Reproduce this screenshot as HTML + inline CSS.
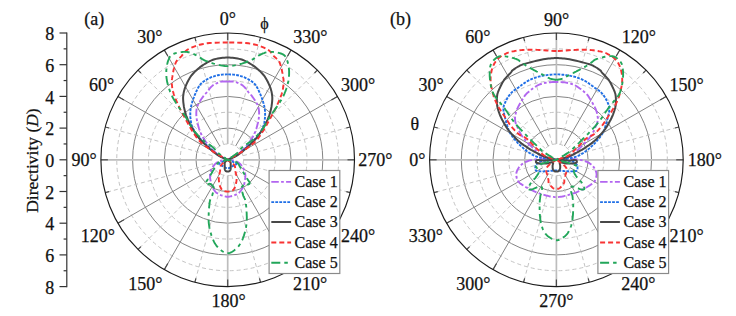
<!DOCTYPE html>
<html><head><meta charset="utf-8"><style>
*{margin:0;padding:0}
body{background:#fff;width:736px;height:316px;overflow:hidden}
svg{display:block}
text{font-family:"Liberation Serif",serif;font-size:18px;fill:#111;stroke:#111;stroke-width:0.25px}
.gd{fill:none;stroke:#c4c4c4;stroke-width:1;stroke-dasharray:4 3}
.gs{fill:none;stroke:#858585;stroke-width:1}
.rs{stroke:#858585;stroke-width:1}
.ra{stroke:#bdbdbd;stroke-width:1.7}
.rd{stroke:#c4c4c4;stroke-width:1;stroke-dasharray:4 3}
.tk{stroke:#4a4a4a;stroke-width:1.2}
.oc{fill:none;stroke:#1a1a1a;stroke-width:1.15}
.lg{fill:#fff;stroke:#8a8a8a;stroke-width:1.2}
.ax{stroke:#333;stroke-width:1.2;fill:none}
.c1,.c2,.c3,.c4,.c5{fill:none;stroke-width:1.9;stroke-linejoin:round}
.c1{stroke:#b266f0;stroke-dasharray:7.5 2.3 2.7 2.3}
.c2{stroke:#1f6fe6;stroke-dasharray:2.8 1.2}
.c3{stroke:#484848;stroke-width:2}
.c4{stroke:#f83333;stroke-dasharray:5 3}
.c5{stroke:#22a65a;stroke-dasharray:9 4 3.5 4}
</style></head>
<body><svg width="736" height="316" viewBox="0 0 736 316">
<circle cx="227.7" cy="159.8" r="15.85" class="gd"/>
<circle cx="227.7" cy="159.8" r="47.55" class="gd"/>
<circle cx="227.7" cy="159.8" r="79.25" class="gd"/>
<circle cx="227.7" cy="159.8" r="110.95" class="gd"/>
<circle cx="227.7" cy="159.8" r="31.70" class="gs"/>
<circle cx="227.7" cy="159.8" r="63.40" class="gs"/>
<circle cx="227.7" cy="159.8" r="95.10" class="gs"/>
<line x1="227.70" y1="143.95" x2="227.70" y2="33.00" class="ra"/>
<line x1="231.80" y1="144.49" x2="260.52" y2="37.32" class="rd"/>
<line x1="235.62" y1="146.07" x2="291.10" y2="49.99" class="rs"/>
<line x1="238.91" y1="148.59" x2="317.36" y2="70.14" class="rd"/>
<line x1="241.43" y1="151.88" x2="337.51" y2="96.40" class="rs"/>
<line x1="243.01" y1="155.70" x2="350.18" y2="126.98" class="rd"/>
<line x1="243.55" y1="159.80" x2="354.50" y2="159.80" class="ra"/>
<line x1="243.01" y1="163.90" x2="350.18" y2="192.62" class="rd"/>
<line x1="241.43" y1="167.72" x2="337.51" y2="223.20" class="rs"/>
<line x1="238.91" y1="171.01" x2="317.36" y2="249.46" class="rd"/>
<line x1="235.62" y1="173.53" x2="291.10" y2="269.61" class="rs"/>
<line x1="231.80" y1="175.11" x2="260.52" y2="282.28" class="rd"/>
<line x1="227.70" y1="175.65" x2="227.70" y2="286.60" class="ra"/>
<line x1="223.60" y1="175.11" x2="194.88" y2="282.28" class="rd"/>
<line x1="219.77" y1="173.53" x2="164.30" y2="269.61" class="rs"/>
<line x1="216.49" y1="171.01" x2="138.04" y2="249.46" class="rd"/>
<line x1="213.97" y1="167.73" x2="117.89" y2="223.20" class="rs"/>
<line x1="212.39" y1="163.90" x2="105.22" y2="192.62" class="rd"/>
<line x1="211.85" y1="159.80" x2="100.90" y2="159.80" class="ra"/>
<line x1="212.39" y1="155.70" x2="105.22" y2="126.98" class="rd"/>
<line x1="213.97" y1="151.88" x2="117.89" y2="96.40" class="rs"/>
<line x1="216.49" y1="148.59" x2="138.04" y2="70.14" class="rd"/>
<line x1="219.77" y1="146.07" x2="164.30" y2="49.99" class="rs"/>
<line x1="223.60" y1="144.49" x2="194.88" y2="37.32" class="rd"/>
<line x1="227.70" y1="33.00" x2="227.70" y2="40.00" class="tk"/>
<line x1="260.52" y1="37.32" x2="259.48" y2="41.18" class="tk"/>
<line x1="291.10" y1="49.99" x2="287.60" y2="56.05" class="tk"/>
<line x1="317.36" y1="70.14" x2="314.53" y2="72.97" class="tk"/>
<line x1="337.51" y1="96.40" x2="331.45" y2="99.90" class="tk"/>
<line x1="350.18" y1="126.98" x2="346.32" y2="128.02" class="tk"/>
<line x1="354.50" y1="159.80" x2="347.50" y2="159.80" class="tk"/>
<line x1="350.18" y1="192.62" x2="346.32" y2="191.58" class="tk"/>
<line x1="337.51" y1="223.20" x2="331.45" y2="219.70" class="tk"/>
<line x1="317.36" y1="249.46" x2="314.53" y2="246.63" class="tk"/>
<line x1="291.10" y1="269.61" x2="287.60" y2="263.55" class="tk"/>
<line x1="260.52" y1="282.28" x2="259.48" y2="278.42" class="tk"/>
<line x1="227.70" y1="286.60" x2="227.70" y2="279.60" class="tk"/>
<line x1="194.88" y1="282.28" x2="195.92" y2="278.42" class="tk"/>
<line x1="164.30" y1="269.61" x2="167.80" y2="263.55" class="tk"/>
<line x1="138.04" y1="249.46" x2="140.87" y2="246.63" class="tk"/>
<line x1="117.89" y1="223.20" x2="123.95" y2="219.70" class="tk"/>
<line x1="105.22" y1="192.62" x2="109.08" y2="191.58" class="tk"/>
<line x1="100.90" y1="159.80" x2="107.90" y2="159.80" class="tk"/>
<line x1="105.22" y1="126.98" x2="109.08" y2="128.02" class="tk"/>
<line x1="117.89" y1="96.40" x2="123.95" y2="99.90" class="tk"/>
<line x1="138.04" y1="70.14" x2="140.87" y2="72.97" class="tk"/>
<line x1="164.30" y1="49.99" x2="167.80" y2="56.05" class="tk"/>
<line x1="194.88" y1="37.32" x2="195.92" y2="41.18" class="tk"/>
<circle cx="227.7" cy="159.8" r="126.8" class="oc"/>
<circle cx="556.4" cy="159.8" r="15.85" class="gd"/>
<circle cx="556.4" cy="159.8" r="47.55" class="gd"/>
<circle cx="556.4" cy="159.8" r="79.25" class="gd"/>
<circle cx="556.4" cy="159.8" r="110.95" class="gd"/>
<circle cx="556.4" cy="159.8" r="31.70" class="gs"/>
<circle cx="556.4" cy="159.8" r="63.40" class="gs"/>
<circle cx="556.4" cy="159.8" r="95.10" class="gs"/>
<line x1="556.40" y1="143.95" x2="556.40" y2="33.00" class="ra"/>
<line x1="560.50" y1="144.49" x2="589.22" y2="37.32" class="rd"/>
<line x1="564.32" y1="146.07" x2="619.80" y2="49.99" class="rs"/>
<line x1="567.61" y1="148.59" x2="646.06" y2="70.14" class="rd"/>
<line x1="570.13" y1="151.88" x2="666.21" y2="96.40" class="rs"/>
<line x1="571.71" y1="155.70" x2="678.88" y2="126.98" class="rd"/>
<line x1="572.25" y1="159.80" x2="683.20" y2="159.80" class="ra"/>
<line x1="571.71" y1="163.90" x2="678.88" y2="192.62" class="rd"/>
<line x1="570.13" y1="167.72" x2="666.21" y2="223.20" class="rs"/>
<line x1="567.61" y1="171.01" x2="646.06" y2="249.46" class="rd"/>
<line x1="564.32" y1="173.53" x2="619.80" y2="269.61" class="rs"/>
<line x1="560.50" y1="175.11" x2="589.22" y2="282.28" class="rd"/>
<line x1="556.40" y1="175.65" x2="556.40" y2="286.60" class="ra"/>
<line x1="552.30" y1="175.11" x2="523.58" y2="282.28" class="rd"/>
<line x1="548.48" y1="173.53" x2="493.00" y2="269.61" class="rs"/>
<line x1="545.19" y1="171.01" x2="466.74" y2="249.46" class="rd"/>
<line x1="542.67" y1="167.73" x2="446.59" y2="223.20" class="rs"/>
<line x1="541.09" y1="163.90" x2="433.92" y2="192.62" class="rd"/>
<line x1="540.55" y1="159.80" x2="429.60" y2="159.80" class="ra"/>
<line x1="541.09" y1="155.70" x2="433.92" y2="126.98" class="rd"/>
<line x1="542.67" y1="151.88" x2="446.59" y2="96.40" class="rs"/>
<line x1="545.19" y1="148.59" x2="466.74" y2="70.14" class="rd"/>
<line x1="548.48" y1="146.07" x2="493.00" y2="49.99" class="rs"/>
<line x1="552.30" y1="144.49" x2="523.58" y2="37.32" class="rd"/>
<line x1="556.40" y1="33.00" x2="556.40" y2="40.00" class="tk"/>
<line x1="589.22" y1="37.32" x2="588.18" y2="41.18" class="tk"/>
<line x1="619.80" y1="49.99" x2="616.30" y2="56.05" class="tk"/>
<line x1="646.06" y1="70.14" x2="643.23" y2="72.97" class="tk"/>
<line x1="666.21" y1="96.40" x2="660.15" y2="99.90" class="tk"/>
<line x1="678.88" y1="126.98" x2="675.02" y2="128.02" class="tk"/>
<line x1="683.20" y1="159.80" x2="676.20" y2="159.80" class="tk"/>
<line x1="678.88" y1="192.62" x2="675.02" y2="191.58" class="tk"/>
<line x1="666.21" y1="223.20" x2="660.15" y2="219.70" class="tk"/>
<line x1="646.06" y1="249.46" x2="643.23" y2="246.63" class="tk"/>
<line x1="619.80" y1="269.61" x2="616.30" y2="263.55" class="tk"/>
<line x1="589.22" y1="282.28" x2="588.18" y2="278.42" class="tk"/>
<line x1="556.40" y1="286.60" x2="556.40" y2="279.60" class="tk"/>
<line x1="523.58" y1="282.28" x2="524.62" y2="278.42" class="tk"/>
<line x1="493.00" y1="269.61" x2="496.50" y2="263.55" class="tk"/>
<line x1="466.74" y1="249.46" x2="469.57" y2="246.63" class="tk"/>
<line x1="446.59" y1="223.20" x2="452.65" y2="219.70" class="tk"/>
<line x1="433.92" y1="192.62" x2="437.78" y2="191.58" class="tk"/>
<line x1="429.60" y1="159.80" x2="436.60" y2="159.80" class="tk"/>
<line x1="433.92" y1="126.98" x2="437.78" y2="128.02" class="tk"/>
<line x1="446.59" y1="96.40" x2="452.65" y2="99.90" class="tk"/>
<line x1="466.74" y1="70.14" x2="469.57" y2="72.97" class="tk"/>
<line x1="493.00" y1="49.99" x2="496.50" y2="56.05" class="tk"/>
<line x1="523.58" y1="37.32" x2="524.62" y2="41.18" class="tk"/>
<circle cx="556.4" cy="159.8" r="126.8" class="oc"/>
<polyline points="227.7,81.6 226.8,81.6 226.0,81.5 225.1,81.5 224.3,81.5 223.4,81.4 222.5,81.5 221.6,81.6 220.7,81.8 219.7,82.1 218.7,82.4 217.7,82.8 216.6,83.3 215.5,83.8 214.5,84.3 213.5,84.9 212.6,85.6 211.7,86.4 210.9,87.2 210.0,88.2 209.2,89.2 208.5,90.2 207.8,91.1 207.1,92.0 206.5,92.7 206.0,93.2 205.6,93.6 205.3,93.9 205.0,94.2 204.7,94.4 204.4,94.8 204.0,95.3 203.5,96.0 202.9,96.9 202.1,98.0 201.2,99.3 200.3,100.6 199.5,102.0 198.6,103.4 197.9,104.8 197.4,106.1 197.0,107.4 196.7,108.6 196.5,109.9 196.4,111.1 196.3,112.4 196.3,113.7 196.3,114.9 196.4,116.2 196.5,117.5 196.7,118.8 196.9,120.1 197.1,121.4 197.4,122.7 197.8,124.0 198.1,125.2 198.4,126.4 198.7,127.5 199.0,128.6 199.4,129.6 199.7,130.6 200.1,131.6 200.5,132.5 200.9,133.5 201.4,134.5 201.9,135.5 202.4,136.5 203.0,137.4 203.5,138.4 204.2,139.4 204.9,140.4 205.6,141.5 206.5,142.6 207.5,143.8 208.5,145.1 209.6,146.5 210.8,147.9 212.1,149.3 213.4,150.6 214.7,151.9 216.0,153.0 217.4,154.1 219.0,155.1 220.7,156.1 222.4,157.1 224.1,157.9 225.5,158.7 226.8,159.3 227.7,159.8 227.0,159.9 226.0,160.0 224.8,160.2 223.5,160.3 222.2,160.5 220.9,160.8 219.7,161.1 218.7,161.5 217.8,162.0 217.0,162.5 216.2,163.1 215.5,163.7 214.8,164.4 214.2,165.1 213.6,165.9 213.1,166.6 212.6,167.4 212.1,168.2 211.7,169.0 211.3,169.8 211.0,170.7 210.7,171.6 210.5,172.4 210.3,173.2 210.2,174.0 210.1,174.7 210.0,175.5 210.0,176.2 210.1,176.9 210.1,177.7 210.2,178.4 210.3,179.2 210.4,180.0 210.5,180.8 210.7,181.7 210.8,182.5 211.0,183.3 211.2,184.2 211.5,185.0 211.8,185.8 212.1,186.6 212.5,187.4 213.0,188.2 213.4,189.0 213.9,189.8 214.4,190.5 215.0,191.2 215.5,191.8 216.1,192.4 216.7,192.9 217.3,193.3 217.9,193.7 218.6,194.1 219.2,194.5 220.0,194.8 220.7,195.1 221.5,195.4 222.3,195.7 223.2,196.0 224.1,196.2 225.0,196.4 225.9,196.6 226.8,196.7 227.7,196.7 228.6,196.7 229.5,196.6 230.4,196.4 231.3,196.2 232.2,196.0 233.1,195.7 233.9,195.4 234.7,195.1 235.4,194.8 236.2,194.5 236.8,194.1 237.5,193.7 238.1,193.3 238.7,192.9 239.3,192.4 239.9,191.8 240.4,191.2 241.0,190.5 241.5,189.8 242.0,189.0 242.4,188.2 242.9,187.4 243.3,186.6 243.6,185.8 243.9,185.0 244.2,184.2 244.4,183.3 244.6,182.5 244.7,181.7 244.9,180.8 245.0,180.0 245.1,179.2 245.2,178.4 245.3,177.7 245.3,176.9 245.4,176.2 245.4,175.5 245.3,174.7 245.2,174.0 245.1,173.2 244.9,172.4 244.7,171.6 244.4,170.7 244.0,169.8 243.7,169.0 243.3,168.2 242.8,167.4 242.3,166.6 241.8,165.9 241.2,165.1 240.6,164.4 239.9,163.7 239.2,163.1 238.4,162.5 237.6,162.0 236.7,161.5 235.7,161.1 234.5,160.8 233.2,160.5 231.8,160.3 230.6,160.2 229.4,160.0 228.4,159.9 227.7,159.8 228.6,159.3 229.9,158.7 231.3,157.9 233.0,157.1 234.7,156.1 236.4,155.1 238.0,154.1 239.4,153.0 240.7,151.9 242.0,150.6 243.3,149.3 244.6,147.9 245.8,146.5 246.9,145.1 247.9,143.8 248.9,142.6 249.8,141.5 250.5,140.4 251.2,139.4 251.9,138.4 252.4,137.4 253.0,136.5 253.5,135.5 254.0,134.5 254.5,133.5 254.9,132.5 255.3,131.6 255.7,130.6 256.0,129.6 256.4,128.6 256.7,127.5 257.0,126.4 257.3,125.2 257.6,124.0 258.0,122.7 258.2,121.4 258.5,120.1 258.7,118.8 258.9,117.5 259.0,116.2 259.1,114.9 259.1,113.7 259.1,112.4 259.0,111.1 258.9,109.9 258.7,108.6 258.4,107.4 258.0,106.1 257.5,104.8 256.8,103.4 255.9,102.0 255.1,100.6 254.2,99.3 253.3,98.0 252.5,96.9 251.9,96.0 251.4,95.3 251.0,94.8 250.7,94.4 250.4,94.2 250.1,93.9 249.8,93.6 249.4,93.2 248.9,92.7 248.3,92.0 247.6,91.1 246.9,90.2 246.2,89.2 245.4,88.2 244.5,87.2 243.7,86.4 242.8,85.6 241.9,84.9 240.9,84.3 239.9,83.8 238.8,83.3 237.7,82.8 236.7,82.4 235.7,82.1 234.7,81.8 233.8,81.6 232.9,81.5 232.0,81.4 231.1,81.5 230.3,81.5 229.4,81.5 228.6,81.6 227.7,81.6" class="c1"/>
<polyline points="227.7,74.4 226.3,74.4 224.9,74.5 223.5,74.5 222.1,74.6 220.7,74.8 219.3,75.0 217.9,75.2 216.6,75.5 215.3,75.9 213.9,76.3 212.6,76.7 211.3,77.2 210.0,77.8 208.8,78.4 207.6,79.0 206.5,79.6 205.5,80.2 204.5,80.9 203.5,81.5 202.6,82.2 201.8,82.9 201.0,83.7 200.2,84.6 199.4,85.6 198.7,86.7 198.0,87.9 197.3,89.2 196.7,90.6 196.1,92.0 195.5,93.3 194.9,94.7 194.4,96.0 193.9,97.3 193.4,98.5 193.0,99.8 192.5,101.0 192.2,102.3 191.8,103.5 191.5,104.7 191.2,105.8 191.0,106.9 190.8,108.0 190.6,109.0 190.5,110.0 190.4,111.0 190.4,112.0 190.3,112.9 190.3,113.8 190.3,114.6 190.3,115.4 190.3,116.2 190.3,116.9 190.4,117.6 190.5,118.3 190.6,119.0 190.7,119.8 190.8,120.6 190.9,121.4 191.0,122.2 191.1,123.1 191.3,123.9 191.5,124.8 191.8,125.7 192.2,126.7 192.6,127.7 193.1,128.8 193.7,129.8 194.3,130.9 195.0,132.1 195.7,133.2 196.5,134.4 197.4,135.5 198.3,136.7 199.4,137.8 200.4,139.0 201.6,140.2 202.8,141.4 204.0,142.6 205.2,143.8 206.5,145.0 207.8,146.2 209.1,147.5 210.5,148.7 211.9,150.0 213.4,151.2 214.8,152.4 216.2,153.5 217.5,154.5 218.9,155.4 220.3,156.2 221.8,157.0 223.3,157.7 224.7,158.4 225.9,158.9 226.9,159.4 227.7,159.8 227.0,160.1 225.9,160.5 224.6,161.0 223.2,161.5 221.9,162.1 220.7,162.6 219.7,163.2 219.2,163.6 219.1,164.0 219.2,164.3 219.6,164.7 220.2,165.0 220.8,165.3 221.5,165.6 222.2,165.9 222.8,166.2 223.4,166.5 223.9,166.9 224.5,167.2 225.2,167.5 225.8,167.8 226.4,168.1 227.1,168.2 227.7,168.3 228.3,168.2 229.0,168.1 229.6,167.8 230.2,167.5 230.9,167.2 231.5,166.9 232.0,166.5 232.6,166.2 233.2,165.9 233.9,165.6 234.6,165.3 235.2,165.0 235.8,164.7 236.2,164.3 236.3,164.0 236.2,163.6 235.7,163.2 234.7,162.6 233.5,162.1 232.2,161.5 230.8,161.0 229.5,160.5 228.4,160.1 227.7,159.8 228.5,159.4 229.5,158.9 230.7,158.4 232.1,157.7 233.6,157.0 235.1,156.2 236.5,155.4 237.9,154.5 239.2,153.5 240.6,152.4 242.0,151.2 243.5,150.0 244.9,148.7 246.3,147.5 247.6,146.2 248.9,145.0 250.2,143.8 251.4,142.6 252.6,141.4 253.8,140.2 255.0,139.0 256.0,137.8 257.1,136.7 258.0,135.5 258.9,134.4 259.7,133.2 260.4,132.1 261.1,130.9 261.7,129.8 262.3,128.8 262.8,127.7 263.2,126.7 263.6,125.7 263.9,124.8 264.1,123.9 264.2,123.1 264.4,122.2 264.5,121.4 264.6,120.6 264.7,119.8 264.8,119.0 264.9,118.3 265.0,117.6 265.0,116.9 265.1,116.2 265.1,115.4 265.1,114.6 265.1,113.8 265.1,112.9 265.0,112.0 265.0,111.0 264.9,110.0 264.8,109.0 264.6,108.0 264.4,106.9 264.2,105.8 263.9,104.7 263.6,103.5 263.2,102.3 262.9,101.1 262.4,99.8 262.0,98.5 261.5,97.3 261.0,96.0 260.5,94.7 259.9,93.3 259.3,92.0 258.7,90.6 258.1,89.2 257.4,87.9 256.7,86.7 256.0,85.6 255.2,84.6 254.4,83.7 253.6,82.9 252.8,82.2 251.9,81.5 250.9,80.9 249.9,80.2 248.9,79.6 247.8,79.0 246.6,78.4 245.4,77.8 244.1,77.2 242.8,76.7 241.5,76.3 240.1,75.9 238.8,75.5 237.5,75.2 236.1,75.0 234.7,74.8 233.3,74.6 231.9,74.5 230.5,74.5 229.1,74.4 227.7,74.4" class="c2"/>
<polyline points="227.7,57.6 226.1,57.6 224.4,57.7 222.7,57.8 221.1,58.0 219.4,58.2 217.8,58.5 216.2,58.9 214.6,59.3 213.0,59.8 211.5,60.4 209.9,61.1 208.4,61.9 206.9,62.7 205.4,63.6 203.9,64.5 202.5,65.4 201.1,66.4 199.7,67.4 198.4,68.5 197.0,69.7 195.7,70.9 194.5,72.1 193.4,73.3 192.3,74.5 191.3,75.7 190.4,76.9 189.6,78.2 188.9,79.4 188.2,80.7 187.5,82.0 186.9,83.3 186.3,84.6 185.7,86.0 185.2,87.3 184.7,88.7 184.3,90.2 183.9,91.6 183.6,93.1 183.4,94.5 183.2,96.0 183.1,97.5 183.1,99.0 183.2,100.6 183.3,102.1 183.5,103.7 183.7,105.2 183.9,106.7 184.2,108.1 184.5,109.5 184.8,110.8 185.1,112.1 185.5,113.3 185.9,114.6 186.3,115.8 186.8,117.0 187.3,118.3 187.8,119.6 188.4,120.8 188.9,122.1 189.5,123.4 190.2,124.6 190.9,125.9 191.6,127.1 192.3,128.4 193.1,129.7 193.9,130.9 194.7,132.2 195.6,133.5 196.5,134.8 197.4,136.0 198.4,137.3 199.4,138.5 200.4,139.7 201.5,140.9 202.6,142.0 203.8,143.2 204.9,144.3 206.1,145.4 207.3,146.5 208.5,147.6 209.7,148.7 211.0,149.8 212.3,150.9 213.6,152.0 214.9,153.0 216.2,154.0 217.5,154.9 218.7,155.7 219.9,156.4 221.2,157.1 222.6,157.7 223.8,158.3 225.0,158.7 226.1,159.2 227.0,159.5 227.7,159.8 227.5,160.0 227.2,160.2 226.8,160.5 226.4,160.8 226.0,161.2 225.6,161.5 225.2,161.9 225.0,162.3 224.8,162.7 224.7,163.1 224.7,163.5 224.7,164.0 224.7,164.4 224.7,164.9 224.7,165.4 224.7,165.8 224.7,166.2 224.7,166.7 224.7,167.2 224.7,167.7 224.7,168.1 224.7,168.5 224.7,168.9 224.8,169.3 224.9,169.6 225.0,169.9 225.1,170.2 225.2,170.4 225.4,170.6 225.6,170.8 225.7,171.0 225.9,171.1 226.1,171.2 226.3,171.3 226.5,171.4 226.8,171.4 227.0,171.5 227.2,171.5 227.5,171.5 227.7,171.5 227.9,171.5 228.2,171.5 228.4,171.5 228.6,171.4 228.9,171.4 229.1,171.3 229.3,171.2 229.5,171.1 229.7,171.0 229.8,170.8 230.0,170.6 230.2,170.4 230.3,170.2 230.4,169.9 230.5,169.6 230.6,169.3 230.7,168.9 230.7,168.5 230.7,168.1 230.7,167.7 230.7,167.2 230.7,166.7 230.7,166.2 230.7,165.8 230.7,165.4 230.7,164.9 230.7,164.4 230.7,164.0 230.7,163.5 230.7,163.1 230.6,162.7 230.4,162.3 230.2,161.9 229.8,161.5 229.4,161.2 229.0,160.8 228.6,160.5 228.2,160.2 227.9,160.0 227.7,159.8 228.4,159.5 229.3,159.2 230.4,158.7 231.6,158.3 232.8,157.7 234.2,157.1 235.5,156.4 236.7,155.7 237.9,154.9 239.2,154.0 240.5,153.0 241.8,152.0 243.1,150.9 244.4,149.8 245.7,148.7 246.9,147.6 248.1,146.5 249.3,145.4 250.5,144.3 251.6,143.2 252.8,142.0 253.9,140.9 255.0,139.7 256.0,138.5 257.0,137.3 258.0,136.0 258.9,134.8 259.8,133.5 260.7,132.2 261.5,130.9 262.3,129.7 263.1,128.4 263.8,127.1 264.5,125.9 265.2,124.6 265.8,123.4 266.5,122.1 267.0,120.8 267.6,119.6 268.1,118.3 268.6,117.0 269.1,115.8 269.5,114.6 269.9,113.3 270.3,112.1 270.6,110.8 270.9,109.5 271.2,108.1 271.5,106.7 271.7,105.2 271.9,103.7 272.1,102.1 272.2,100.6 272.3,99.0 272.3,97.5 272.2,96.0 272.0,94.5 271.8,93.1 271.5,91.6 271.1,90.2 270.7,88.7 270.2,87.3 269.7,86.0 269.1,84.6 268.5,83.3 267.9,82.0 267.2,80.7 266.5,79.4 265.8,78.2 265.0,76.9 264.1,75.7 263.1,74.5 262.0,73.3 260.9,72.1 259.7,70.9 258.4,69.7 257.0,68.5 255.7,67.4 254.3,66.4 252.9,65.4 251.5,64.5 250.0,63.6 248.5,62.7 247.0,61.9 245.5,61.1 243.9,60.4 242.4,59.8 240.8,59.3 239.2,58.9 237.6,58.5 236.0,58.2 234.3,58.0 232.7,57.8 231.0,57.7 229.3,57.6 227.7,57.6" class="c3"/>
<polyline points="227.7,42.5 224.8,42.5 221.7,42.5 218.7,42.6 215.7,42.7 212.7,42.8 209.8,43.0 207.1,43.3 204.5,43.7 202.1,44.2 199.7,44.7 197.5,45.4 195.4,46.1 193.4,46.8 191.5,47.6 189.8,48.4 188.3,49.2 187.0,50.0 185.8,50.9 184.9,51.8 184.1,52.8 183.4,53.7 182.7,54.6 182.0,55.5 181.3,56.3 180.6,57.0 179.9,57.6 179.3,58.2 178.7,58.8 178.1,59.3 177.6,59.8 177.1,60.4 176.6,61.1 176.2,61.8 175.8,62.5 175.5,63.3 175.2,64.1 174.9,64.9 174.7,65.7 174.4,66.5 174.2,67.4 174.0,68.3 173.7,69.3 173.5,70.3 173.3,71.4 173.1,72.4 172.9,73.4 172.8,74.4 172.6,75.3 172.5,76.2 172.3,76.9 172.2,77.7 172.1,78.4 171.9,79.2 171.9,79.9 171.8,80.7 171.8,81.6 171.8,82.5 171.8,83.5 171.9,84.5 172.0,85.5 172.1,86.5 172.2,87.6 172.4,88.6 172.6,89.6 172.8,90.6 173.0,91.5 173.3,92.4 173.5,93.3 173.8,94.3 174.2,95.3 174.6,96.3 175.0,97.5 175.5,98.8 176.1,100.2 176.7,101.6 177.4,103.2 178.1,104.7 178.8,106.2 179.4,107.6 180.1,109.0 180.7,110.2 181.3,111.4 181.9,112.5 182.5,113.6 183.1,114.7 183.7,115.8 184.4,117.0 185.1,118.3 185.9,119.7 186.7,121.2 187.6,122.8 188.5,124.5 189.4,126.1 190.3,127.7 191.2,129.2 192.1,130.7 193.0,132.1 193.8,133.4 194.7,134.7 195.6,136.0 196.4,137.2 197.3,138.4 198.2,139.5 199.2,140.6 200.2,141.6 201.2,142.6 202.3,143.6 203.4,144.5 204.5,145.3 205.6,146.2 206.7,147.0 207.8,147.8 208.8,148.6 209.9,149.3 210.9,150.0 211.9,150.7 212.9,151.4 214.0,152.1 215.1,152.8 216.3,153.5 217.7,154.3 219.2,155.2 220.9,156.1 222.5,157.0 224.1,157.9 225.6,158.7 226.8,159.3 227.7,159.8 227.2,160.2 226.4,160.7 225.5,161.4 224.5,162.1 223.5,162.8 222.5,163.6 221.7,164.4 221.1,165.1 220.7,165.8 220.4,166.6 220.3,167.4 220.2,168.2 220.2,169.0 220.2,169.8 220.1,170.6 220.0,171.4 219.8,172.1 219.7,172.8 219.5,173.5 219.3,174.2 219.1,174.9 219.0,175.6 218.9,176.3 218.8,177.1 218.8,177.9 218.8,178.8 218.8,179.7 218.9,180.6 219.0,181.5 219.1,182.3 219.3,183.1 219.4,183.9 219.6,184.6 219.7,185.3 219.9,185.9 220.1,186.5 220.4,187.0 220.6,187.6 220.9,188.1 221.1,188.5 221.3,188.9 221.6,189.3 221.8,189.6 222.1,189.9 222.4,190.1 222.7,190.4 223.0,190.6 223.4,190.8 223.8,191.0 224.3,191.1 224.9,191.3 225.4,191.4 226.0,191.5 226.6,191.5 227.1,191.6 227.7,191.6 228.3,191.6 228.8,191.5 229.4,191.5 230.0,191.4 230.5,191.3 231.1,191.1 231.6,191.0 232.0,190.8 232.4,190.6 232.7,190.4 233.0,190.1 233.3,189.9 233.6,189.6 233.8,189.3 234.1,188.9 234.3,188.5 234.5,188.1 234.8,187.6 235.0,187.0 235.3,186.5 235.5,185.9 235.7,185.3 235.8,184.6 236.0,183.9 236.1,183.1 236.3,182.3 236.4,181.5 236.5,180.6 236.6,179.7 236.6,178.8 236.6,177.9 236.6,177.1 236.5,176.3 236.4,175.6 236.3,174.9 236.1,174.2 235.9,173.5 235.7,172.8 235.6,172.1 235.4,171.4 235.3,170.6 235.2,169.8 235.2,169.0 235.2,168.2 235.1,167.4 235.0,166.6 234.7,165.8 234.3,165.1 233.7,164.4 232.9,163.6 231.9,162.8 230.9,162.1 229.9,161.4 229.0,160.7 228.2,160.2 227.7,159.8 228.6,159.3 229.8,158.7 231.3,157.9 232.9,157.0 234.5,156.1 236.2,155.2 237.7,154.3 239.1,153.5 240.3,152.8 241.4,152.1 242.5,151.4 243.5,150.7 244.5,150.0 245.5,149.3 246.6,148.6 247.6,147.8 248.7,147.0 249.8,146.2 250.9,145.3 252.0,144.5 253.1,143.6 254.2,142.6 255.2,141.6 256.2,140.6 257.2,139.5 258.1,138.4 259.0,137.2 259.8,136.0 260.7,134.7 261.6,133.4 262.4,132.1 263.3,130.7 264.2,129.2 265.1,127.7 266.0,126.1 266.9,124.5 267.8,122.8 268.7,121.2 269.5,119.7 270.3,118.3 271.0,117.0 271.7,115.8 272.3,114.7 272.9,113.6 273.5,112.5 274.1,111.4 274.7,110.2 275.3,109.0 276.0,107.6 276.6,106.2 277.3,104.7 278.0,103.2 278.7,101.6 279.3,100.2 279.9,98.8 280.4,97.5 280.8,96.3 281.2,95.3 281.6,94.3 281.9,93.3 282.1,92.4 282.4,91.5 282.6,90.6 282.8,89.6 283.0,88.6 283.1,87.6 283.3,86.5 283.4,85.5 283.5,84.5 283.6,83.5 283.6,82.5 283.6,81.6 283.6,80.7 283.5,79.9 283.5,79.2 283.4,78.4 283.2,77.7 283.1,76.9 282.9,76.2 282.8,75.3 282.6,74.4 282.5,73.4 282.3,72.4 282.1,71.4 281.9,70.3 281.7,69.3 281.4,68.3 281.2,67.4 281.0,66.5 280.7,65.7 280.5,64.9 280.2,64.1 279.9,63.3 279.6,62.5 279.2,61.8 278.8,61.1 278.3,60.4 277.8,59.8 277.3,59.3 276.7,58.8 276.1,58.2 275.5,57.6 274.8,57.0 274.1,56.3 273.4,55.5 272.7,54.6 272.0,53.7 271.3,52.8 270.5,51.8 269.6,50.9 268.4,50.0 267.1,49.2 265.6,48.4 263.9,47.6 262.0,46.8 260.0,46.1 257.9,45.4 255.7,44.7 253.3,44.2 250.9,43.7 248.3,43.3 245.6,43.0 242.7,42.8 239.7,42.7 236.7,42.6 233.7,42.5 230.6,42.5 227.7,42.5" class="c4"/>
<polyline points="227.7,66.1 226.3,66.1 224.9,66.0 223.6,65.8 222.2,65.6 220.8,65.4 219.4,65.1 218.0,64.8 216.6,64.4 215.1,64.0 213.6,63.6 212.0,63.1 210.4,62.6 208.8,62.0 207.3,61.4 205.8,60.9 204.5,60.3 203.3,59.7 202.2,59.1 201.2,58.4 200.2,57.7 199.3,57.1 198.3,56.4 197.4,55.8 196.4,55.3 195.4,54.8 194.4,54.3 193.4,53.9 192.3,53.4 191.3,53.1 190.3,52.7 189.3,52.4 188.3,52.2 187.3,52.0 186.3,51.9 185.3,51.9 184.3,51.9 183.3,51.9 182.2,52.0 181.2,52.1 180.2,52.2 179.1,52.4 178.0,52.6 176.8,52.9 175.7,53.2 174.6,53.5 173.5,53.9 172.6,54.3 171.8,54.7 171.2,55.2 170.6,55.7 170.2,56.3 169.8,56.9 169.5,57.5 169.3,58.1 169.0,58.8 168.7,59.5 168.4,60.2 168.1,60.9 167.8,61.7 167.6,62.5 167.4,63.3 167.1,64.1 167.0,64.9 166.8,65.8 166.7,66.7 166.5,67.7 166.5,68.6 166.4,69.7 166.3,70.7 166.3,71.7 166.3,72.7 166.3,73.7 166.3,74.7 166.4,75.7 166.4,76.7 166.5,77.6 166.6,78.6 166.8,79.6 166.9,80.6 167.1,81.6 167.3,82.6 167.6,83.6 167.8,84.6 168.1,85.7 168.4,86.7 168.8,87.7 169.1,88.7 169.4,89.6 169.7,90.5 170.0,91.4 170.4,92.2 170.7,93.0 171.0,93.8 171.4,94.6 171.8,95.5 172.2,96.3 172.6,97.2 173.1,98.1 173.6,99.0 174.1,99.9 174.7,100.8 175.2,101.6 175.7,102.5 176.2,103.3 176.7,104.1 177.1,104.7 177.6,105.4 178.0,106.0 178.5,106.7 179.0,107.4 179.5,108.1 180.1,109.0 180.7,109.9 181.4,110.9 182.2,111.9 182.9,113.0 183.7,114.1 184.5,115.3 185.4,116.5 186.2,117.8 187.0,119.2 187.9,120.7 188.8,122.3 189.7,123.9 190.6,125.5 191.6,127.1 192.5,128.6 193.5,130.0 194.5,131.3 195.6,132.6 196.8,133.9 197.9,135.1 199.0,136.2 200.1,137.3 201.2,138.3 202.1,139.2 203.0,140.0 203.7,140.6 204.4,141.2 205.1,141.7 205.8,142.1 206.4,142.5 207.1,143.0 207.8,143.5 208.5,144.0 209.3,144.6 210.0,145.1 210.7,145.6 211.5,146.1 212.2,146.7 212.9,147.2 213.5,147.8 214.1,148.4 214.5,148.9 215.0,149.5 215.4,150.1 215.8,150.7 216.4,151.3 217.0,152.0 217.8,152.7 218.8,153.5 220.1,154.5 221.5,155.5 223.0,156.6 224.5,157.6 225.8,158.5 226.9,159.2 227.7,159.8 227.0,160.0 226.0,160.2 224.8,160.5 223.5,160.8 222.1,161.1 220.8,161.5 219.7,161.9 218.8,162.3 218.1,162.8 217.6,163.3 217.1,163.8 216.8,164.4 216.4,164.9 216.1,165.5 215.8,166.2 215.4,166.8 215.0,167.5 214.5,168.1 214.1,168.8 213.7,169.6 213.3,170.3 212.8,171.0 212.4,171.8 212.0,172.5 211.6,173.2 211.1,174.0 210.7,174.7 210.3,175.4 209.8,176.1 209.4,176.9 209.0,177.5 208.6,178.2 208.2,178.8 207.7,179.5 207.3,180.1 206.8,180.8 206.4,181.3 206.1,181.9 205.8,182.4 205.7,182.8 205.7,183.2 205.8,183.5 205.9,183.8 206.2,184.0 206.5,184.2 206.8,184.3 207.1,184.4 207.4,184.5 207.7,184.5 208.0,184.4 208.4,184.3 208.7,184.1 209.1,183.9 209.5,183.8 209.9,183.8 210.3,183.9 210.7,184.1 211.2,184.4 211.7,184.8 212.2,185.3 212.7,185.8 213.1,186.3 213.5,186.8 213.7,187.3 213.8,187.8 213.8,188.4 213.8,189.0 213.7,189.6 213.5,190.2 213.4,190.8 213.2,191.3 213.1,191.9 213.0,192.4 212.9,192.9 212.8,193.4 212.6,193.9 212.5,194.4 212.4,194.9 212.2,195.4 212.0,196.0 211.8,196.5 211.5,197.1 211.2,197.6 210.9,198.1 210.7,198.7 210.4,199.4 210.1,200.2 209.9,201.1 209.7,202.2 209.5,203.5 209.4,204.8 209.2,206.3 209.1,207.8 209.0,209.3 208.9,210.8 208.8,212.2 208.7,213.6 208.7,215.0 208.6,216.4 208.6,217.8 208.6,219.1 208.6,220.5 208.7,221.9 208.8,223.3 209.0,224.7 209.2,226.1 209.4,227.5 209.7,228.9 210.0,230.3 210.3,231.6 210.7,233.0 211.1,234.3 211.5,235.6 212.0,236.9 212.5,238.3 213.0,239.6 213.6,240.8 214.2,242.1 214.8,243.2 215.5,244.3 216.2,245.3 217.0,246.3 217.9,247.3 218.7,248.1 219.6,249.0 220.5,249.7 221.3,250.4 222.1,251.0 222.8,251.5 223.6,252.0 224.3,252.3 225.0,252.7 225.6,252.9 226.3,253.1 227.0,253.2 227.7,253.2 228.4,253.2 229.1,253.1 229.8,252.9 230.4,252.7 231.1,252.3 231.8,252.0 232.6,251.5 233.3,251.0 234.1,250.4 234.9,249.7 235.8,249.0 236.7,248.1 237.5,247.3 238.4,246.3 239.2,245.3 239.9,244.3 240.6,243.2 241.2,242.1 241.8,240.8 242.4,239.6 242.9,238.3 243.4,236.9 243.9,235.6 244.3,234.3 244.7,233.0 245.1,231.6 245.4,230.3 245.7,228.9 246.0,227.5 246.2,226.1 246.4,224.7 246.6,223.3 246.7,221.9 246.8,220.5 246.8,219.1 246.8,217.8 246.8,216.4 246.7,215.0 246.7,213.6 246.6,212.2 246.5,210.8 246.4,209.3 246.3,207.8 246.2,206.3 246.0,204.8 245.9,203.5 245.7,202.2 245.5,201.1 245.3,200.2 245.0,199.4 244.7,198.7 244.4,198.1 244.2,197.6 243.9,197.1 243.6,196.5 243.4,196.0 243.2,195.4 243.0,194.9 242.9,194.4 242.8,193.9 242.6,193.4 242.5,192.9 242.4,192.4 242.3,191.9 242.2,191.3 242.0,190.8 241.9,190.2 241.7,189.6 241.6,189.0 241.6,188.4 241.6,187.8 241.7,187.3 241.9,186.8 242.3,186.3 242.7,185.8 243.2,185.3 243.7,184.8 244.2,184.4 244.7,184.1 245.1,183.9 245.5,183.8 245.9,183.8 246.3,183.9 246.7,184.1 247.0,184.3 247.4,184.4 247.7,184.5 248.0,184.5 248.3,184.4 248.6,184.3 248.9,184.2 249.2,184.0 249.5,183.8 249.6,183.5 249.7,183.2 249.7,182.8 249.6,182.4 249.3,181.9 249.0,181.3 248.6,180.8 248.1,180.1 247.7,179.5 247.2,178.8 246.8,178.2 246.4,177.5 246.0,176.9 245.6,176.1 245.1,175.4 244.7,174.7 244.3,174.0 243.8,173.2 243.4,172.5 243.0,171.8 242.5,171.0 242.1,170.3 241.7,169.6 241.3,168.8 240.8,168.1 240.4,167.5 240.0,166.8 239.6,166.2 239.3,165.5 239.0,164.9 238.6,164.4 238.3,163.8 237.8,163.3 237.3,162.8 236.6,162.3 235.7,161.9 234.6,161.5 233.3,161.1 231.9,160.8 230.6,160.5 229.4,160.2 228.4,160.0 227.7,159.8 228.5,159.2 229.6,158.5 230.9,157.6 232.4,156.6 233.9,155.5 235.3,154.5 236.6,153.5 237.6,152.7 238.4,152.0 239.0,151.3 239.6,150.7 240.0,150.1 240.4,149.5 240.9,148.9 241.3,148.4 241.9,147.8 242.5,147.2 243.2,146.7 243.9,146.1 244.7,145.6 245.4,145.1 246.1,144.6 246.9,144.0 247.6,143.5 248.3,143.0 249.0,142.5 249.6,142.1 250.3,141.7 251.0,141.2 251.7,140.6 252.4,140.0 253.3,139.2 254.2,138.3 255.3,137.3 256.4,136.2 257.5,135.1 258.6,133.9 259.8,132.6 260.9,131.3 261.9,130.0 262.9,128.6 263.8,127.1 264.8,125.5 265.7,123.9 266.6,122.3 267.5,120.7 268.4,119.2 269.2,117.8 270.0,116.5 270.9,115.3 271.7,114.1 272.5,113.0 273.2,111.9 274.0,110.9 274.7,109.9 275.3,109.0 275.9,108.1 276.4,107.4 276.9,106.7 277.4,106.0 277.8,105.4 278.3,104.7 278.7,104.1 279.2,103.3 279.7,102.5 280.2,101.6 280.7,100.8 281.3,99.9 281.8,99.0 282.3,98.1 282.8,97.2 283.2,96.3 283.6,95.5 284.0,94.6 284.4,93.8 284.7,93.0 285.0,92.2 285.4,91.4 285.7,90.5 286.0,89.6 286.3,88.7 286.6,87.7 287.0,86.7 287.3,85.7 287.6,84.6 287.8,83.6 288.1,82.6 288.3,81.6 288.5,80.6 288.6,79.6 288.8,78.6 288.9,77.6 289.0,76.7 289.0,75.7 289.1,74.7 289.1,73.7 289.1,72.7 289.1,71.7 289.1,70.7 289.0,69.7 288.9,68.6 288.9,67.7 288.7,66.7 288.6,65.8 288.4,64.9 288.3,64.1 288.0,63.3 287.8,62.5 287.6,61.7 287.3,60.9 287.0,60.2 286.7,59.5 286.4,58.8 286.1,58.1 285.9,57.5 285.6,56.9 285.2,56.3 284.8,55.7 284.2,55.2 283.6,54.7 282.8,54.3 281.9,53.9 280.8,53.5 279.7,53.2 278.6,52.9 277.4,52.6 276.3,52.4 275.2,52.2 274.2,52.1 273.2,52.0 272.1,51.9 271.1,51.9 270.1,51.9 269.1,51.9 268.1,52.0 267.1,52.2 266.1,52.4 265.1,52.7 264.1,53.1 263.0,53.4 262.0,53.9 261.0,54.3 260.0,54.8 259.0,55.3 258.0,55.8 257.1,56.4 256.1,57.1 255.2,57.7 254.2,58.4 253.2,59.1 252.1,59.7 250.9,60.3 249.6,60.9 248.1,61.4 246.6,62.0 245.0,62.6 243.4,63.1 241.8,63.6 240.3,64.0 238.8,64.4 237.4,64.8 236.0,65.1 234.6,65.4 233.2,65.6 231.8,65.8 230.5,66.0 229.1,66.1 227.7,66.1" class="c5"/>
<polyline points="556.4,82.0 555.2,82.0 554.0,82.0 552.8,82.0 551.6,82.1 550.5,82.2 549.3,82.3 548.1,82.4 546.9,82.6 545.7,82.8 544.5,83.0 543.4,83.3 542.2,83.6 541.0,84.0 539.8,84.4 538.6,84.9 537.4,85.5 536.1,86.3 534.7,87.2 533.3,88.2 531.8,89.2 530.4,90.3 529.1,91.4 527.9,92.4 526.9,93.3 526.1,94.1 525.5,94.8 525.0,95.4 524.6,96.0 524.2,96.6 523.8,97.2 523.4,98.0 522.9,98.8 522.3,99.8 521.6,100.8 521.0,101.9 520.3,103.1 519.6,104.3 518.9,105.5 518.3,106.6 517.8,107.7 517.3,108.7 516.9,109.7 516.6,110.7 516.2,111.7 515.9,112.6 515.7,113.5 515.5,114.4 515.3,115.3 515.2,116.2 515.1,117.0 515.0,117.8 515.0,118.6 515.1,119.4 515.1,120.1 515.2,120.9 515.3,121.6 515.4,122.3 515.6,122.9 515.8,123.5 516.0,124.1 516.3,124.7 516.6,125.3 516.9,126.0 517.2,126.7 517.6,127.5 518.0,128.4 518.4,129.4 518.8,130.4 519.3,131.4 519.8,132.4 520.3,133.4 520.9,134.3 521.5,135.2 522.1,136.1 522.8,137.0 523.4,137.9 524.1,138.8 524.9,139.6 525.7,140.6 526.5,141.5 527.4,142.5 528.3,143.5 529.4,144.5 530.4,145.6 531.5,146.6 532.5,147.6 533.6,148.6 534.6,149.6 535.6,150.6 536.5,151.5 537.4,152.5 538.3,153.5 539.3,154.4 540.3,155.2 541.4,156.0 542.7,156.7 544.2,157.3 546.1,157.8 548.0,158.3 550.1,158.7 552.0,159.0 553.8,159.3 555.3,159.6 556.4,159.8 555.6,159.7 554.6,159.7 553.4,159.6 552.1,159.5 550.7,159.4 549.2,159.3 547.8,159.2 546.4,159.2 545.1,159.2 543.7,159.2 542.2,159.2 540.8,159.2 539.4,159.2 538.0,159.3 536.6,159.4 535.3,159.5 534.0,159.7 532.7,159.9 531.5,160.1 530.2,160.4 529.1,160.7 527.9,161.1 526.8,161.5 525.8,161.9 524.8,162.4 523.9,162.9 523.1,163.4 522.3,164.0 521.5,164.6 520.8,165.2 520.1,165.9 519.5,166.6 518.9,167.4 518.4,168.2 517.9,169.1 517.4,170.0 517.0,170.9 516.7,171.9 516.4,172.8 516.3,173.7 516.2,174.6 516.3,175.6 516.4,176.5 516.6,177.5 516.8,178.4 517.1,179.3 517.5,180.1 517.9,180.9 518.4,181.6 518.9,182.2 519.5,182.8 520.1,183.4 520.8,183.9 521.6,184.4 522.5,185.0 523.4,185.6 524.5,186.3 525.6,187.0 526.9,187.7 528.2,188.4 529.6,189.1 531.0,189.8 532.3,190.5 533.7,191.1 535.0,191.7 536.4,192.3 537.8,192.8 539.2,193.3 540.6,193.8 542.0,194.3 543.4,194.7 544.8,195.1 546.2,195.5 547.7,195.8 549.1,196.2 550.6,196.5 552.0,196.7 553.5,196.9 554.9,197.1 556.4,197.1 557.9,197.1 559.3,196.9 560.8,196.7 562.2,196.5 563.7,196.2 565.1,195.8 566.6,195.5 568.0,195.1 569.4,194.7 570.8,194.3 572.2,193.8 573.6,193.3 575.0,192.8 576.4,192.3 577.8,191.7 579.1,191.1 580.5,190.5 581.8,189.8 583.2,189.1 584.6,188.4 585.9,187.7 587.2,187.0 588.3,186.3 589.4,185.6 590.3,185.0 591.2,184.4 592.0,183.9 592.7,183.4 593.3,182.8 593.9,182.2 594.4,181.6 594.9,180.9 595.3,180.1 595.7,179.3 596.0,178.4 596.2,177.5 596.4,176.5 596.5,175.6 596.6,174.6 596.5,173.7 596.4,172.8 596.1,171.9 595.8,170.9 595.4,170.0 594.9,169.1 594.4,168.2 593.9,167.4 593.3,166.6 592.7,165.9 592.0,165.2 591.3,164.6 590.5,164.0 589.7,163.4 588.9,162.9 588.0,162.4 587.0,161.9 586.0,161.5 584.9,161.1 583.7,160.7 582.5,160.4 581.3,160.1 580.1,159.9 578.8,159.7 577.5,159.5 576.2,159.4 574.8,159.3 573.4,159.2 572.0,159.2 570.6,159.2 569.1,159.2 567.7,159.2 566.4,159.2 565.0,159.2 563.6,159.3 562.1,159.4 560.7,159.5 559.4,159.6 558.2,159.7 557.2,159.7 556.4,159.8 557.5,159.6 559.0,159.3 560.8,159.0 562.7,158.7 564.8,158.3 566.7,157.8 568.6,157.3 570.1,156.7 571.4,156.0 572.5,155.2 573.5,154.4 574.5,153.5 575.4,152.5 576.3,151.5 577.2,150.6 578.2,149.6 579.2,148.6 580.3,147.6 581.3,146.6 582.4,145.6 583.4,144.5 584.5,143.5 585.4,142.5 586.3,141.5 587.1,140.6 587.9,139.6 588.7,138.8 589.4,137.9 590.0,137.0 590.7,136.1 591.3,135.2 591.9,134.3 592.5,133.4 593.0,132.4 593.5,131.4 594.0,130.4 594.4,129.4 594.8,128.4 595.2,127.5 595.6,126.7 595.9,126.0 596.2,125.3 596.5,124.7 596.8,124.1 597.0,123.5 597.2,122.9 597.4,122.3 597.5,121.6 597.6,120.9 597.7,120.1 597.7,119.4 597.8,118.6 597.8,117.8 597.7,117.0 597.6,116.2 597.5,115.3 597.3,114.4 597.1,113.5 596.9,112.6 596.6,111.7 596.2,110.7 595.9,109.7 595.5,108.7 595.0,107.7 594.5,106.6 593.9,105.5 593.2,104.3 592.5,103.1 591.8,101.9 591.2,100.8 590.5,99.8 589.9,98.8 589.4,98.0 589.0,97.2 588.6,96.6 588.2,96.0 587.8,95.4 587.3,94.8 586.7,94.1 585.9,93.3 584.9,92.4 583.7,91.4 582.4,90.3 581.0,89.2 579.5,88.2 578.1,87.2 576.7,86.3 575.4,85.5 574.2,84.9 573.0,84.4 571.8,84.0 570.6,83.6 569.4,83.3 568.3,83.0 567.1,82.8 565.9,82.6 564.7,82.4 563.5,82.3 562.3,82.2 561.1,82.1 560.0,82.0 558.8,82.0 557.6,82.0 556.4,82.0" class="c1"/>
<polyline points="556.4,74.4 555.2,74.4 554.0,74.4 552.8,74.5 551.6,74.6 550.5,74.7 549.3,74.8 548.1,74.9 546.9,75.1 545.7,75.3 544.5,75.4 543.3,75.6 542.1,75.9 541.0,76.1 539.8,76.4 538.6,76.7 537.4,77.0 536.2,77.4 535.0,77.8 533.9,78.2 532.7,78.6 531.5,79.1 530.4,79.6 529.2,80.2 528.0,80.8 526.8,81.5 525.6,82.3 524.4,83.1 523.2,84.0 521.9,84.8 520.8,85.7 519.6,86.6 518.5,87.4 517.4,88.2 516.4,88.9 515.3,89.6 514.3,90.3 513.3,91.1 512.4,91.8 511.5,92.7 510.6,93.6 509.8,94.6 508.9,95.8 508.1,97.0 507.3,98.3 506.6,99.6 506.0,100.8 505.4,102.0 504.9,103.1 504.5,104.1 504.1,104.9 503.9,105.6 503.7,106.4 503.5,107.1 503.5,108.0 503.4,108.9 503.5,110.0 503.6,111.3 503.9,112.7 504.2,114.3 504.6,115.9 505.0,117.5 505.4,119.2 505.9,120.8 506.3,122.3 506.7,123.7 507.1,125.2 507.5,126.5 507.9,127.9 508.4,129.3 508.9,130.6 509.5,132.0 510.3,133.4 511.2,134.8 512.2,136.2 513.2,137.7 514.4,139.1 515.6,140.5 516.9,141.9 518.1,143.3 519.4,144.6 520.7,145.9 522.1,147.1 523.5,148.4 524.9,149.6 526.4,150.8 527.8,151.8 529.2,152.8 530.6,153.7 531.9,154.5 533.1,155.1 534.2,155.7 535.4,156.1 536.6,156.6 537.8,157.0 539.2,157.3 540.7,157.7 542.5,158.1 544.6,158.4 546.9,158.7 549.2,159.0 551.4,159.2 553.4,159.5 555.2,159.7 556.4,159.8 555.8,159.9 554.9,159.9 554.0,160.0 552.9,160.2 551.7,160.3 550.5,160.4 549.4,160.5 548.4,160.6 547.4,160.7 546.4,160.7 545.5,160.8 544.5,160.8 543.6,160.9 542.7,161.0 541.8,161.1 541.0,161.3 540.2,161.6 539.5,161.9 538.8,162.3 538.2,162.7 537.6,163.2 537.1,163.6 536.6,164.1 536.2,164.5 535.9,164.9 535.7,165.3 535.5,165.7 535.4,166.2 535.3,166.6 535.3,167.0 535.3,167.4 535.3,167.8 535.3,168.2 535.3,168.6 535.3,169.0 535.4,169.4 535.5,169.8 535.7,170.1 535.9,170.4 536.2,170.7 536.6,170.9 537.1,171.1 537.7,171.2 538.3,171.2 539.0,171.3 539.6,171.3 540.3,171.4 541.0,171.4 541.7,171.4 542.3,171.4 543.0,171.4 543.7,171.4 544.5,171.3 545.2,171.3 545.9,171.3 546.7,171.2 547.5,171.1 548.4,171.1 549.3,171.0 550.2,170.9 551.0,170.8 551.9,170.7 552.6,170.7 553.3,170.6 553.9,170.6 554.3,170.5 554.7,170.5 555.1,170.5 555.4,170.4 555.7,170.4 556.0,170.4 556.4,170.4 556.8,170.4 557.1,170.4 557.4,170.4 557.7,170.5 558.1,170.5 558.5,170.5 558.9,170.6 559.5,170.6 560.2,170.7 560.9,170.7 561.8,170.8 562.6,170.9 563.5,171.0 564.4,171.1 565.3,171.1 566.1,171.2 566.9,171.3 567.6,171.3 568.3,171.3 569.1,171.4 569.8,171.4 570.5,171.4 571.1,171.4 571.8,171.4 572.5,171.4 573.2,171.3 573.8,171.3 574.5,171.2 575.1,171.2 575.7,171.1 576.2,170.9 576.6,170.7 576.9,170.4 577.1,170.1 577.3,169.8 577.4,169.4 577.5,169.0 577.5,168.6 577.5,168.2 577.5,167.8 577.5,167.4 577.5,167.0 577.5,166.6 577.4,166.2 577.3,165.7 577.1,165.3 576.9,164.9 576.6,164.5 576.2,164.1 575.7,163.6 575.2,163.2 574.6,162.7 574.0,162.3 573.3,161.9 572.6,161.6 571.8,161.3 571.0,161.1 570.1,161.0 569.2,160.9 568.3,160.8 567.3,160.8 566.4,160.7 565.4,160.7 564.4,160.6 563.4,160.5 562.3,160.4 561.1,160.3 559.9,160.2 558.8,160.0 557.9,159.9 557.0,159.9 556.4,159.8 557.6,159.7 559.4,159.5 561.4,159.2 563.6,159.0 565.9,158.7 568.2,158.4 570.3,158.1 572.1,157.7 573.6,157.3 575.0,157.0 576.2,156.6 577.4,156.1 578.6,155.7 579.7,155.1 580.9,154.5 582.2,153.7 583.6,152.8 585.0,151.8 586.4,150.8 587.9,149.6 589.3,148.4 590.7,147.1 592.1,145.9 593.4,144.6 594.7,143.3 595.9,141.9 597.2,140.5 598.4,139.1 599.6,137.7 600.6,136.2 601.6,134.8 602.5,133.4 603.3,132.0 603.9,130.6 604.4,129.3 604.9,127.9 605.3,126.5 605.7,125.2 606.1,123.7 606.5,122.3 606.9,120.8 607.4,119.2 607.8,117.5 608.2,115.9 608.6,114.3 608.9,112.7 609.2,111.3 609.3,110.0 609.4,108.9 609.3,108.0 609.3,107.1 609.1,106.4 608.9,105.6 608.7,104.9 608.3,104.0 607.9,103.1 607.4,102.0 606.8,100.8 606.2,99.6 605.5,98.3 604.7,97.0 603.9,95.8 603.0,94.6 602.2,93.6 601.3,92.7 600.4,91.8 599.5,91.1 598.5,90.3 597.5,89.6 596.4,88.9 595.4,88.2 594.3,87.4 593.2,86.6 592.0,85.7 590.9,84.8 589.6,84.0 588.4,83.1 587.2,82.3 586.0,81.5 584.8,80.8 583.6,80.2 582.4,79.6 581.3,79.1 580.1,78.6 578.9,78.2 577.8,77.8 576.6,77.4 575.4,77.0 574.2,76.7 573.0,76.4 571.8,76.1 570.7,75.9 569.5,75.6 568.3,75.4 567.1,75.3 565.9,75.1 564.7,74.9 563.5,74.8 562.3,74.7 561.1,74.6 560.0,74.5 558.8,74.4 557.6,74.4 556.4,74.4" class="c2"/>
<polyline points="556.4,58.1 554.8,58.1 553.2,58.2 551.7,58.2 550.1,58.4 548.5,58.5 546.9,58.7 545.2,59.0 543.3,59.3 541.2,59.7 538.9,60.2 536.5,60.8 534.0,61.4 531.6,62.0 529.3,62.6 527.3,63.1 525.6,63.6 524.2,64.0 523.2,64.3 522.3,64.6 521.6,64.9 521.0,65.1 520.4,65.4 519.8,65.7 519.1,66.1 518.3,66.5 517.4,67.0 516.6,67.5 515.7,68.0 514.9,68.6 514.2,69.1 513.5,69.6 512.9,70.0 512.5,70.4 512.2,70.7 511.9,70.9 511.8,71.2 511.6,71.5 511.4,71.8 511.1,72.2 510.6,72.8 510.0,73.5 509.2,74.3 508.3,75.2 507.4,76.1 506.5,77.1 505.6,78.1 504.7,79.1 504.0,80.1 503.4,81.1 502.8,82.0 502.2,83.0 501.7,84.0 501.2,85.0 500.7,86.0 500.3,86.9 499.9,87.8 499.5,88.6 499.1,89.4 498.8,90.2 498.5,90.9 498.2,91.6 497.9,92.3 497.7,93.1 497.5,93.8 497.3,94.5 497.2,95.3 497.1,96.0 497.0,96.7 497.0,97.5 496.9,98.2 496.9,99.0 496.9,99.8 496.9,100.6 496.9,101.4 496.9,102.3 496.9,103.1 497.0,104.0 497.1,104.9 497.2,105.8 497.4,106.8 497.6,107.8 497.9,108.8 498.2,109.9 498.5,111.0 498.9,112.1 499.3,113.2 499.7,114.3 500.1,115.3 500.5,116.3 501.0,117.3 501.4,118.3 501.9,119.2 502.4,120.2 502.9,121.1 503.4,122.0 503.9,122.9 504.4,123.8 504.8,124.6 505.3,125.4 505.7,126.1 506.2,126.9 506.7,127.7 507.2,128.4 507.7,129.2 508.3,130.0 508.8,130.7 509.4,131.4 510.1,132.2 510.7,132.9 511.4,133.7 512.1,134.5 512.9,135.3 513.7,136.1 514.5,137.0 515.3,137.9 516.2,138.8 517.1,139.8 518.1,140.7 519.2,141.6 520.4,142.6 521.7,143.6 523.1,144.6 524.6,145.7 526.2,146.7 527.8,147.8 529.4,148.8 531.0,149.8 532.6,150.7 534.1,151.6 535.6,152.4 537.2,153.2 538.7,154.0 540.2,154.8 541.7,155.5 543.2,156.1 544.7,156.7 546.3,157.2 547.9,157.8 549.6,158.2 551.3,158.6 552.9,159.0 554.3,159.3 555.5,159.6 556.4,159.8 555.9,159.8 555.1,159.9 554.3,159.9 553.3,160.0 552.3,160.0 551.3,160.1 550.3,160.2 549.4,160.2 548.6,160.2 547.7,160.3 546.9,160.3 546.1,160.3 545.2,160.4 544.4,160.4 543.7,160.4 542.9,160.4 542.1,160.4 541.4,160.3 540.6,160.3 539.8,160.2 539.1,160.1 538.5,160.1 537.9,160.1 537.4,160.1 537.0,160.2 536.7,160.3 536.5,160.5 536.3,160.6 536.2,160.8 536.1,161.0 536.0,161.2 536.0,161.4 536.0,161.6 535.9,161.8 535.9,162.0 536.0,162.2 536.1,162.4 536.3,162.6 536.5,162.7 536.9,162.9 537.4,163.0 538.1,163.2 538.8,163.3 539.6,163.4 540.5,163.5 541.3,163.5 542.1,163.6 542.9,163.6 543.6,163.6 544.3,163.6 545.0,163.6 545.7,163.5 546.4,163.4 547.1,163.4 547.8,163.3 548.4,163.2 549.0,163.1 549.7,162.9 550.4,162.7 551.0,162.5 551.6,162.3 552.1,162.2 552.6,162.2 552.9,162.3 553.1,162.5 553.2,162.9 553.1,163.3 553.0,163.8 552.9,164.3 552.8,164.9 552.6,165.4 552.6,165.8 552.6,166.2 552.6,166.6 552.6,167.0 552.6,167.4 552.6,167.8 552.7,168.1 552.7,168.5 552.8,168.8 552.9,169.1 553.0,169.4 553.2,169.8 553.4,170.1 553.6,170.3 553.8,170.6 554.0,170.8 554.2,171.0 554.4,171.2 554.7,171.3 555.0,171.4 555.2,171.5 555.5,171.5 555.8,171.6 556.1,171.6 556.4,171.6 556.7,171.6 557.0,171.6 557.3,171.5 557.5,171.5 557.8,171.4 558.1,171.3 558.4,171.2 558.6,171.0 558.8,170.8 559.0,170.6 559.2,170.3 559.4,170.1 559.6,169.8 559.8,169.4 559.9,169.1 560.0,168.8 560.1,168.5 560.1,168.1 560.2,167.8 560.2,167.4 560.2,167.0 560.2,166.6 560.2,166.2 560.2,165.8 560.2,165.4 560.0,164.9 559.9,164.3 559.8,163.8 559.7,163.3 559.6,162.9 559.7,162.5 559.9,162.3 560.2,162.2 560.7,162.2 561.2,162.3 561.8,162.5 562.4,162.7 563.1,162.9 563.8,163.1 564.4,163.2 565.0,163.3 565.7,163.4 566.4,163.4 567.1,163.5 567.8,163.6 568.5,163.6 569.2,163.6 569.9,163.6 570.7,163.6 571.5,163.5 572.3,163.5 573.2,163.4 574.0,163.3 574.7,163.2 575.4,163.0 575.9,162.9 576.3,162.7 576.5,162.6 576.7,162.4 576.8,162.2 576.9,162.0 576.9,161.8 576.8,161.6 576.8,161.4 576.8,161.2 576.7,161.0 576.6,160.8 576.5,160.6 576.3,160.5 576.1,160.3 575.8,160.2 575.4,160.1 574.9,160.1 574.3,160.1 573.7,160.1 573.0,160.2 572.2,160.3 571.4,160.3 570.7,160.4 569.9,160.4 569.1,160.4 568.4,160.4 567.6,160.4 566.7,160.3 565.9,160.3 565.1,160.3 564.2,160.2 563.4,160.2 562.5,160.2 561.5,160.1 560.5,160.0 559.5,160.0 558.5,159.9 557.7,159.9 556.9,159.8 556.4,159.8 557.3,159.6 558.5,159.3 559.9,159.0 561.5,158.6 563.2,158.2 564.9,157.8 566.5,157.2 568.1,156.7 569.6,156.1 571.1,155.5 572.6,154.8 574.1,154.0 575.6,153.2 577.2,152.4 578.7,151.6 580.2,150.7 581.8,149.8 583.4,148.8 585.0,147.8 586.6,146.7 588.2,145.7 589.7,144.6 591.1,143.6 592.4,142.6 593.6,141.6 594.7,140.7 595.7,139.8 596.6,138.8 597.5,137.9 598.3,137.0 599.1,136.1 599.9,135.3 600.7,134.5 601.4,133.7 602.1,132.9 602.7,132.2 603.4,131.4 604.0,130.7 604.5,130.0 605.1,129.2 605.6,128.4 606.1,127.7 606.6,126.9 607.1,126.1 607.5,125.4 608.0,124.6 608.4,123.8 608.9,122.9 609.4,122.0 609.9,121.1 610.4,120.2 610.9,119.2 611.4,118.3 611.8,117.3 612.3,116.3 612.7,115.3 613.1,114.3 613.5,113.2 613.9,112.1 614.3,111.0 614.6,109.9 614.9,108.8 615.2,107.8 615.4,106.8 615.6,105.8 615.7,104.9 615.8,104.0 615.9,103.1 615.9,102.3 615.9,101.4 615.9,100.6 615.9,99.8 615.9,99.0 615.9,98.2 615.8,97.5 615.8,96.7 615.7,96.0 615.6,95.3 615.5,94.5 615.3,93.8 615.1,93.1 614.9,92.3 614.6,91.6 614.3,90.9 614.0,90.2 613.7,89.4 613.3,88.6 612.9,87.8 612.5,86.9 612.1,86.0 611.6,85.0 611.1,84.0 610.6,83.0 610.0,82.0 609.4,81.1 608.8,80.1 608.1,79.1 607.2,78.1 606.3,77.1 605.4,76.1 604.5,75.2 603.6,74.3 602.8,73.5 602.2,72.8 601.7,72.2 601.4,71.8 601.2,71.5 601.0,71.2 600.9,70.9 600.6,70.7 600.3,70.4 599.9,70.0 599.3,69.6 598.6,69.1 597.9,68.6 597.1,68.0 596.2,67.5 595.4,67.0 594.5,66.5 593.7,66.1 593.0,65.7 592.4,65.4 591.8,65.1 591.2,64.9 590.5,64.6 589.6,64.3 588.6,64.0 587.2,63.6 585.5,63.1 583.5,62.6 581.2,62.0 578.8,61.4 576.3,60.8 573.9,60.2 571.6,59.7 569.5,59.3 567.6,59.0 565.9,58.7 564.3,58.5 562.7,58.4 561.1,58.2 559.6,58.2 558.0,58.1 556.4,58.1" class="c3"/>
<polyline points="556.4,51.0 554.0,51.0 551.5,50.9 549.0,50.7 546.5,50.5 544.1,50.3 541.7,50.1 539.5,50.0 537.4,49.9 535.5,49.8 533.6,49.8 531.9,49.8 530.3,49.7 528.8,49.7 527.2,49.8 525.7,49.8 524.2,49.9 522.7,50.0 521.1,50.1 519.6,50.3 518.1,50.5 516.7,50.7 515.3,50.9 514.0,51.2 512.8,51.4 511.7,51.6 510.7,51.9 509.7,52.1 508.8,52.4 508.0,52.7 507.1,53.0 506.3,53.4 505.4,53.8 504.5,54.3 503.5,54.8 502.6,55.3 501.6,55.9 500.7,56.5 499.8,57.1 499.0,57.8 498.2,58.5 497.5,59.2 496.8,60.0 496.1,60.8 495.5,61.7 495.0,62.5 494.4,63.4 494.0,64.3 493.5,65.2 493.1,66.1 492.7,67.0 492.4,68.0 492.1,68.9 491.8,69.9 491.6,70.9 491.4,71.8 491.2,72.8 491.0,73.8 490.9,74.7 490.8,75.7 490.7,76.6 490.6,77.6 490.6,78.5 490.6,79.5 490.6,80.4 490.6,81.4 490.7,82.3 490.8,83.3 490.9,84.2 491.1,85.2 491.2,86.1 491.4,87.1 491.6,88.0 491.8,88.9 492.0,89.9 492.2,90.8 492.4,91.7 492.6,92.6 492.9,93.6 493.2,94.5 493.5,95.5 493.8,96.5 494.2,97.6 494.6,98.6 495.0,99.7 495.5,100.8 495.9,101.8 496.4,102.9 496.9,103.9 497.4,104.9 497.9,105.9 498.4,106.8 499.0,107.8 499.6,108.7 500.1,109.6 500.7,110.6 501.3,111.5 501.9,112.5 502.5,113.4 503.2,114.4 503.8,115.3 504.5,116.2 505.1,117.2 505.8,118.2 506.4,119.1 507.0,120.1 507.6,121.0 508.2,122.0 508.8,122.9 509.4,123.9 510.1,124.8 510.8,125.8 511.5,126.7 512.3,127.7 513.2,128.7 514.1,129.7 515.0,130.7 516.0,131.7 517.0,132.6 517.9,133.5 518.9,134.3 519.8,134.9 520.7,135.5 521.6,135.9 522.5,136.2 523.5,136.6 524.4,137.1 525.4,137.7 526.5,138.5 527.7,139.5 528.9,140.7 530.2,142.0 531.5,143.4 532.8,144.8 534.2,146.1 535.4,147.4 536.6,148.6 537.7,149.7 538.7,150.7 539.6,151.6 540.5,152.5 541.5,153.4 542.5,154.2 543.5,155.0 544.7,155.7 546.1,156.4 547.6,157.0 549.3,157.6 551.1,158.2 552.7,158.7 554.2,159.1 555.5,159.5 556.4,159.8 555.9,160.1 555.3,160.5 554.5,161.0 553.6,161.5 552.8,162.1 551.9,162.7 551.1,163.3 550.4,163.8 549.8,164.3 549.2,164.9 548.6,165.5 548.0,166.0 547.5,166.6 547.1,167.1 546.7,167.7 546.4,168.2 546.2,168.7 546.1,169.2 546.1,169.6 546.1,170.1 546.2,170.5 546.2,170.9 546.3,171.4 546.4,171.8 546.5,172.2 546.6,172.7 546.7,173.1 546.8,173.5 547.0,173.9 547.1,174.4 547.3,174.8 547.4,175.3 547.5,175.8 547.7,176.4 547.8,177.0 547.9,177.6 548.1,178.1 548.2,178.7 548.3,179.3 548.4,179.8 548.5,180.3 548.5,180.7 548.5,181.1 548.5,181.5 548.5,181.9 548.5,182.3 548.7,182.7 548.9,183.2 549.2,183.8 549.7,184.4 550.2,185.1 550.7,185.8 551.3,186.4 551.9,187.0 552.4,187.6 552.9,188.0 553.4,188.3 553.8,188.5 554.2,188.7 554.7,188.8 555.1,188.8 555.5,188.8 556.0,188.8 556.4,188.8 556.8,188.8 557.3,188.8 557.7,188.8 558.1,188.8 558.6,188.7 559.0,188.5 559.4,188.3 559.9,188.0 560.4,187.6 560.9,187.0 561.5,186.4 562.1,185.8 562.6,185.1 563.1,184.4 563.6,183.8 563.9,183.2 564.1,182.7 564.3,182.3 564.3,181.9 564.3,181.5 564.3,181.1 564.3,180.7 564.3,180.3 564.4,179.8 564.5,179.3 564.6,178.7 564.7,178.1 564.9,177.6 565.0,177.0 565.1,176.4 565.3,175.8 565.4,175.3 565.5,174.8 565.7,174.4 565.8,173.9 566.0,173.5 566.1,173.1 566.2,172.7 566.3,172.2 566.4,171.8 566.5,171.4 566.6,170.9 566.6,170.5 566.7,170.1 566.7,169.6 566.7,169.2 566.6,168.7 566.4,168.2 566.1,167.7 565.7,167.1 565.3,166.6 564.8,166.0 564.2,165.5 563.6,164.9 563.0,164.3 562.4,163.8 561.7,163.3 560.9,162.7 560.0,162.1 559.1,161.5 558.3,161.0 557.5,160.5 556.9,160.1 556.4,159.8 557.3,159.5 558.6,159.1 560.1,158.7 561.7,158.2 563.5,157.6 565.2,157.0 566.7,156.4 568.1,155.7 569.3,155.0 570.3,154.2 571.3,153.4 572.2,152.5 573.2,151.6 574.1,150.7 575.1,149.7 576.2,148.6 577.4,147.4 578.6,146.1 580.0,144.8 581.3,143.4 582.6,142.0 583.9,140.7 585.1,139.5 586.3,138.5 587.4,137.7 588.4,137.1 589.3,136.6 590.3,136.2 591.2,135.9 592.1,135.5 593.0,134.9 593.9,134.3 594.9,133.5 595.8,132.6 596.8,131.7 597.8,130.7 598.7,129.7 599.6,128.7 600.5,127.7 601.3,126.7 602.0,125.8 602.7,124.8 603.4,123.9 604.0,122.9 604.6,122.0 605.2,121.0 605.8,120.0 606.4,119.1 607.0,118.2 607.7,117.2 608.3,116.3 609.0,115.3 609.6,114.4 610.3,113.4 610.9,112.5 611.5,111.5 612.1,110.6 612.7,109.6 613.2,108.7 613.8,107.8 614.4,106.8 614.9,105.9 615.4,104.9 615.9,103.9 616.4,102.9 616.9,101.8 617.3,100.8 617.8,99.7 618.2,98.6 618.6,97.6 619.0,96.5 619.3,95.5 619.6,94.5 619.9,93.6 620.2,92.6 620.4,91.7 620.6,90.8 620.8,89.9 621.0,88.9 621.2,88.0 621.4,87.1 621.6,86.1 621.7,85.2 621.9,84.2 622.0,83.3 622.1,82.3 622.2,81.4 622.2,80.4 622.2,79.5 622.2,78.5 622.2,77.6 622.1,76.6 622.0,75.7 621.9,74.7 621.8,73.8 621.6,72.8 621.4,71.8 621.2,70.9 621.0,69.9 620.7,68.9 620.4,68.0 620.1,67.0 619.7,66.1 619.3,65.2 618.8,64.3 618.4,63.4 617.8,62.5 617.3,61.7 616.7,60.8 616.0,60.0 615.3,59.2 614.6,58.5 613.8,57.8 613.0,57.1 612.1,56.5 611.2,55.9 610.2,55.3 609.3,54.8 608.3,54.3 607.4,53.8 606.5,53.4 605.7,53.0 604.8,52.7 604.0,52.4 603.1,52.1 602.1,51.9 601.1,51.6 600.0,51.4 598.8,51.2 597.5,50.9 596.1,50.7 594.7,50.5 593.2,50.3 591.7,50.1 590.1,50.0 588.6,49.9 587.1,49.8 585.6,49.8 584.0,49.7 582.5,49.7 580.9,49.8 579.2,49.8 577.3,49.8 575.4,49.9 573.3,50.0 571.1,50.1 568.7,50.3 566.3,50.5 563.8,50.7 561.3,50.9 558.8,51.0 556.4,51.0" class="c4"/>
<polyline points="556.4,79.9 555.6,79.7 554.8,79.6 554.1,79.5 553.3,79.4 552.5,79.2 551.7,79.1 551.0,78.8 550.2,78.6 549.5,78.3 548.7,77.9 548.0,77.6 547.3,77.2 546.5,76.7 545.8,76.3 545.1,75.9 544.4,75.5 543.7,75.1 543.0,74.8 542.3,74.4 541.6,74.1 540.9,73.7 540.2,73.3 539.5,73.0 538.8,72.6 538.1,72.2 537.3,71.8 536.6,71.5 535.9,71.1 535.1,70.7 534.4,70.3 533.6,69.9 532.9,69.5 532.2,69.1 531.4,68.7 530.6,68.3 529.9,67.9 529.1,67.5 528.4,67.1 527.6,66.6 526.9,66.2 526.2,65.8 525.5,65.3 524.8,64.8 524.1,64.3 523.4,63.9 522.7,63.4 522.0,62.9 521.4,62.5 520.8,62.1 520.3,61.6 519.8,61.2 519.4,60.8 518.9,60.4 518.3,60.0 517.7,59.7 516.9,59.3 516.0,58.9 514.9,58.6 513.8,58.2 512.6,57.9 511.4,57.6 510.2,57.3 509.0,57.0 507.9,56.8 506.8,56.6 505.7,56.4 504.7,56.3 503.6,56.2 502.6,56.1 501.6,56.1 500.7,56.2 499.8,56.3 499.0,56.5 498.2,56.8 497.5,57.1 496.8,57.5 496.2,58.0 495.6,58.4 495.0,59.0 494.4,59.5 493.8,60.1 493.3,60.7 492.7,61.3 492.2,62.0 491.7,62.7 491.3,63.4 490.9,64.3 490.6,65.2 490.3,66.2 490.1,67.3 490.0,68.5 489.9,69.7 489.8,71.0 489.7,72.2 489.7,73.5 489.7,74.7 489.7,75.9 489.8,77.1 489.9,78.4 490.0,79.6 490.1,80.8 490.3,82.0 490.4,83.1 490.6,84.2 490.8,85.3 491.0,86.3 491.2,87.3 491.4,88.3 491.7,89.2 492.0,90.1 492.2,90.9 492.5,91.7 492.8,92.4 493.0,93.0 493.3,93.6 493.6,94.1 493.8,94.6 494.2,95.1 494.6,95.7 495.0,96.3 495.5,97.0 496.1,97.7 496.7,98.5 497.3,99.3 498.0,100.1 498.7,100.9 499.4,101.8 500.1,102.7 500.8,103.7 501.6,104.7 502.5,105.8 503.3,106.8 504.2,107.9 505.0,109.0 505.7,110.0 506.4,110.9 507.0,111.7 507.5,112.5 507.9,113.1 508.3,113.8 508.7,114.4 509.2,115.1 509.7,115.8 510.2,116.6 510.8,117.5 511.4,118.4 512.1,119.3 512.8,120.3 513.5,121.2 514.3,122.2 515.1,123.2 515.9,124.2 516.7,125.2 517.5,126.1 518.3,127.0 519.2,127.9 520.1,128.9 521.1,129.9 522.2,131.0 523.4,132.3 524.8,133.8 526.4,135.4 528.2,137.2 530.0,139.0 531.8,140.8 533.5,142.6 535.2,144.2 536.6,145.6 537.8,146.8 538.9,147.8 539.9,148.7 540.7,149.5 541.6,150.3 542.5,151.1 543.6,151.9 544.7,152.7 546.1,153.6 547.6,154.6 549.3,155.7 551.1,156.7 552.7,157.7 554.2,158.5 555.5,159.3 556.4,159.8 555.6,160.0 554.5,160.3 553.2,160.6 551.8,160.9 550.3,161.3 548.9,161.7 547.5,162.0 546.4,162.3 545.4,162.6 544.6,162.8 543.8,163.1 543.0,163.3 542.3,163.6 541.7,163.8 541.0,164.0 540.4,164.3 539.7,164.5 539.0,164.8 538.4,165.0 537.7,165.2 537.1,165.4 536.6,165.7 536.3,166.0 536.1,166.4 536.1,166.9 536.4,167.4 536.9,168.0 537.4,168.6 537.9,169.3 538.4,170.0 538.8,170.6 538.9,171.3 538.8,172.0 538.6,172.7 538.4,173.3 538.0,174.1 537.5,174.8 537.1,175.5 536.6,176.2 536.1,176.9 535.6,177.6 535.0,178.3 534.3,179.0 533.6,179.7 533.0,180.4 532.3,181.1 531.7,181.8 531.2,182.5 530.7,183.3 530.2,184.1 529.7,185.0 529.3,185.9 528.9,186.8 528.6,187.5 528.4,188.2 528.4,188.7 528.5,189.1 528.8,189.3 529.1,189.5 529.6,189.6 530.1,189.6 530.7,189.6 531.3,189.5 531.9,189.4 532.6,189.2 533.4,188.9 534.2,188.5 535.1,188.1 536.1,187.7 536.9,187.3 537.7,187.0 538.4,186.8 539.0,186.7 539.6,186.6 540.1,186.5 540.6,186.5 541.0,186.6 541.4,186.8 541.7,187.0 541.9,187.3 542.0,187.8 542.1,188.4 542.0,189.1 541.9,189.9 541.8,190.7 541.7,191.4 541.5,192.2 541.4,192.8 541.3,193.3 541.2,193.7 541.0,194.0 540.9,194.3 540.7,194.7 540.6,195.1 540.4,195.6 540.3,196.4 540.2,197.3 540.1,198.4 539.9,199.5 539.8,200.8 539.7,202.1 539.6,203.5 539.6,205.0 539.6,206.6 539.6,208.3 539.7,210.2 539.7,212.2 539.8,214.3 540.0,216.4 540.2,218.4 540.4,220.3 540.7,222.1 541.1,223.7 541.5,225.3 542.0,226.8 542.5,228.3 543.1,229.6 543.8,230.9 544.4,232.1 545.1,233.2 545.8,234.2 546.7,235.1 547.5,235.9 548.4,236.6 549.3,237.2 550.2,237.8 551.0,238.3 551.8,238.8 552.5,239.2 553.1,239.5 553.7,239.8 554.2,240.0 554.8,240.1 555.3,240.2 555.8,240.3 556.4,240.3 557.0,240.3 557.5,240.2 558.0,240.1 558.6,240.0 559.1,239.8 559.7,239.5 560.3,239.2 561.0,238.8 561.8,238.3 562.6,237.8 563.5,237.2 564.4,236.6 565.3,235.9 566.1,235.1 567.0,234.2 567.7,233.2 568.4,232.1 569.0,230.9 569.7,229.6 570.2,228.3 570.8,226.8 571.3,225.3 571.7,223.7 572.1,222.1 572.4,220.3 572.6,218.4 572.8,216.4 573.0,214.3 573.1,212.2 573.1,210.2 573.2,208.3 573.2,206.6 573.2,205.0 573.2,203.5 573.1,202.1 573.0,200.8 572.9,199.5 572.7,198.4 572.6,197.3 572.5,196.4 572.4,195.6 572.2,195.1 572.1,194.7 571.9,194.3 571.8,194.0 571.6,193.7 571.5,193.3 571.4,192.8 571.3,192.2 571.1,191.4 571.0,190.7 570.9,189.9 570.8,189.1 570.7,188.4 570.8,187.8 570.9,187.3 571.1,187.0 571.4,186.8 571.8,186.6 572.2,186.5 572.7,186.5 573.2,186.6 573.8,186.7 574.4,186.8 575.1,187.0 575.9,187.3 576.7,187.7 577.6,188.1 578.6,188.5 579.4,188.9 580.2,189.2 580.9,189.4 581.5,189.5 582.1,189.6 582.7,189.6 583.2,189.6 583.7,189.5 584.0,189.3 584.3,189.1 584.4,188.7 584.4,188.2 584.2,187.5 583.9,186.8 583.5,185.9 583.1,185.0 582.6,184.1 582.1,183.3 581.6,182.5 581.1,181.8 580.5,181.1 579.8,180.4 579.1,179.7 578.5,179.0 577.8,178.3 577.2,177.6 576.7,176.9 576.2,176.2 575.7,175.5 575.3,174.8 574.8,174.1 574.4,173.3 574.2,172.7 574.0,172.0 573.9,171.3 574.0,170.6 574.4,170.0 574.9,169.3 575.4,168.6 575.9,168.0 576.4,167.4 576.7,166.9 576.7,166.4 576.5,166.0 576.2,165.7 575.7,165.4 575.1,165.2 574.4,165.0 573.8,164.8 573.1,164.5 572.4,164.3 571.8,164.0 571.1,163.8 570.5,163.6 569.8,163.3 569.0,163.1 568.2,162.8 567.4,162.6 566.4,162.3 565.3,162.0 563.9,161.7 562.5,161.3 561.0,160.9 559.6,160.6 558.3,160.3 557.2,160.0 556.4,159.8 557.3,159.3 558.6,158.5 560.1,157.7 561.7,156.7 563.5,155.7 565.2,154.6 566.7,153.6 568.1,152.7 569.2,151.9 570.3,151.1 571.2,150.3 572.1,149.5 572.9,148.7 573.9,147.8 575.0,146.8 576.2,145.6 577.6,144.2 579.3,142.6 581.0,140.8 582.8,139.0 584.6,137.2 586.4,135.4 588.0,133.8 589.4,132.3 590.6,131.0 591.7,129.9 592.7,128.9 593.6,127.9 594.5,127.0 595.3,126.1 596.1,125.2 596.9,124.2 597.7,123.2 598.5,122.2 599.3,121.2 600.0,120.3 600.7,119.3 601.4,118.4 602.0,117.5 602.6,116.6 603.1,115.8 603.6,115.1 604.1,114.4 604.5,113.8 604.9,113.1 605.3,112.5 605.8,111.7 606.4,110.9 607.1,110.0 607.8,109.0 608.6,107.9 609.5,106.8 610.3,105.8 611.2,104.7 612.0,103.7 612.7,102.7 613.4,101.8 614.1,100.9 614.8,100.1 615.5,99.3 616.1,98.5 616.7,97.7 617.3,97.0 617.8,96.3 618.2,95.7 618.6,95.1 619.0,94.6 619.2,94.1 619.5,93.6 619.8,93.0 620.0,92.4 620.3,91.7 620.6,90.9 620.8,90.1 621.1,89.2 621.3,88.3 621.6,87.3 621.8,86.3 622.0,85.3 622.2,84.2 622.4,83.1 622.5,82.0 622.7,80.8 622.8,79.6 622.9,78.4 623.0,77.1 623.1,75.9 623.1,74.7 623.1,73.5 623.1,72.2 623.0,71.0 622.9,69.7 622.8,68.5 622.7,67.3 622.5,66.2 622.2,65.2 621.9,64.3 621.5,63.4 621.1,62.7 620.6,62.0 620.1,61.3 619.5,60.7 619.0,60.1 618.4,59.5 617.8,59.0 617.2,58.4 616.6,58.0 616.0,57.5 615.3,57.1 614.6,56.8 613.8,56.5 613.0,56.3 612.1,56.2 611.2,56.1 610.2,56.1 609.2,56.2 608.1,56.3 607.1,56.4 606.0,56.6 604.9,56.8 603.8,57.0 602.6,57.3 601.4,57.6 600.2,57.9 599.0,58.2 597.9,58.6 596.8,58.9 595.9,59.3 595.1,59.7 594.5,60.0 593.9,60.4 593.4,60.8 593.0,61.2 592.5,61.6 592.0,62.1 591.4,62.5 590.8,62.9 590.1,63.4 589.4,63.9 588.7,64.3 588.0,64.8 587.3,65.3 586.6,65.8 585.9,66.2 585.2,66.6 584.4,67.1 583.7,67.5 582.9,67.9 582.2,68.3 581.4,68.7 580.6,69.1 579.9,69.5 579.2,69.9 578.4,70.3 577.7,70.7 576.9,71.1 576.2,71.5 575.5,71.8 574.7,72.2 574.0,72.6 573.3,73.0 572.6,73.3 571.9,73.7 571.2,74.0 570.5,74.4 569.8,74.8 569.1,75.1 568.4,75.5 567.7,75.9 567.0,76.3 566.3,76.7 565.5,77.2 564.8,77.6 564.1,77.9 563.3,78.3 562.6,78.6 561.8,78.8 561.1,79.1 560.3,79.2 559.5,79.4 558.7,79.5 558.0,79.6 557.2,79.7 556.4,79.9" class="c5"/>
<text x="227.9" y="24.8" text-anchor="middle" >0°</text>
<text x="137.3" y="42.8" text-anchor="start" >30°</text>
<text x="89.0" y="90.6" text-anchor="start" >60°</text>
<text x="71.5" y="165.8" text-anchor="start" >90°</text>
<text x="80.7" y="242.2" text-anchor="start" >120°</text>
<text x="128.2" y="289.6" text-anchor="start" >150°</text>
<text x="228.5" y="306.8" text-anchor="middle" >180°</text>
<text x="293.1" y="290.0" text-anchor="start" >210°</text>
<text x="341.1" y="242.0" text-anchor="start" >240°</text>
<text x="358.2" y="165.9" text-anchor="start" >270°</text>
<text x="340.9" y="90.6" text-anchor="start" >300°</text>
<text x="293.3" y="42.7" text-anchor="start" >330°</text>
<text x="556.6" y="25.5" text-anchor="middle" >90°</text>
<text x="621.8" y="42.8" text-anchor="start" >120°</text>
<text x="669.6" y="90.8" text-anchor="start" >150°</text>
<text x="687.7" y="165.8" text-anchor="start" >180°</text>
<text x="669.5" y="241.9" text-anchor="start" >210°</text>
<text x="621.2" y="289.5" text-anchor="start" >240°</text>
<text x="556.3" y="306.5" text-anchor="middle" >270°</text>
<text x="456.3" y="289.6" text-anchor="start" >300°</text>
<text x="408.8" y="241.5" text-anchor="start" >330°</text>
<text x="409.3" y="165.8" text-anchor="start" >0°</text>
<text x="418.5" y="90.8" text-anchor="start" >30°</text>
<text x="465.3" y="42.7" text-anchor="start" >60°</text>
<text x="84.3" y="24.5" text-anchor="start" >(a)</text>
<text x="390.0" y="24.5" text-anchor="start" >(b)</text>
<text x="260.2" y="28.9" text-anchor="start" style="font-size:16px">ϕ</text>
<text x="410.5" y="129.8" text-anchor="start" >θ</text>
<line x1="59.5" y1="33.00" x2="66.8" y2="33.00" class="ax"/>
<text x="54.3" y="40.100000000000016" text-anchor="end" >8</text>
<line x1="59.5" y1="64.70" x2="66.8" y2="64.70" class="ax"/>
<text x="54.3" y="71.80000000000001" text-anchor="end" >6</text>
<line x1="59.5" y1="96.40" x2="66.8" y2="96.40" class="ax"/>
<text x="54.3" y="103.5" text-anchor="end" >4</text>
<line x1="59.5" y1="128.10" x2="66.8" y2="128.10" class="ax"/>
<text x="54.3" y="135.20000000000002" text-anchor="end" >2</text>
<line x1="59.5" y1="159.80" x2="66.8" y2="159.80" class="ax"/>
<text x="54.3" y="166.9" text-anchor="end" >0</text>
<line x1="59.5" y1="191.50" x2="66.8" y2="191.50" class="ax"/>
<text x="54.3" y="198.6" text-anchor="end" >2</text>
<line x1="59.5" y1="223.20" x2="66.8" y2="223.20" class="ax"/>
<text x="54.3" y="230.29999999999998" text-anchor="end" >4</text>
<line x1="59.5" y1="254.90" x2="66.8" y2="254.90" class="ax"/>
<text x="54.3" y="262.00000000000006" text-anchor="end" >6</text>
<line x1="59.5" y1="286.60" x2="66.8" y2="286.60" class="ax"/>
<text x="54.3" y="293.70000000000005" text-anchor="end" >8</text>
<line x1="63.6" y1="48.85" x2="66.8" y2="48.85" class="ax"/>
<line x1="63.6" y1="80.55" x2="66.8" y2="80.55" class="ax"/>
<line x1="63.6" y1="112.25" x2="66.8" y2="112.25" class="ax"/>
<line x1="63.6" y1="143.95" x2="66.8" y2="143.95" class="ax"/>
<line x1="63.6" y1="175.65" x2="66.8" y2="175.65" class="ax"/>
<line x1="63.6" y1="207.35" x2="66.8" y2="207.35" class="ax"/>
<line x1="63.6" y1="239.05" x2="66.8" y2="239.05" class="ax"/>
<line x1="63.6" y1="270.75" x2="66.8" y2="270.75" class="ax"/>
<line x1="66.8" y1="32.40" x2="66.8" y2="287.20" class="ax"/>
<text transform="translate(37.8,212.8) rotate(-90)" style="font-size:17.5px">Directivity (<tspan font-style="italic">D</tspan>)</text>
<rect x="269.1" y="170.5" width="70.7" height="103" class="lg"/>
<line x1="271.3" y1="181.9" x2="291.1" y2="181.9" class="c1"/>
<text x="294.6" y="186.8" style="font-size:16px">Case 1</text>
<line x1="271.3" y1="202.1" x2="291.1" y2="202.1" class="c2"/>
<text x="294.6" y="207.1" style="font-size:16px">Case 2</text>
<line x1="271.3" y1="222.0" x2="291.1" y2="222.0" class="c3"/>
<text x="294.6" y="227.4" style="font-size:16px">Case 3</text>
<line x1="271.3" y1="242.5" x2="291.1" y2="242.5" class="c4"/>
<text x="294.6" y="247.7" style="font-size:16px">Case 4</text>
<line x1="271.3" y1="262.7" x2="291.1" y2="262.7" class="c5"/>
<text x="294.6" y="268.0" style="font-size:16px">Case 5</text>
<rect x="597.9" y="170.5" width="70.7" height="103" class="lg"/>
<line x1="600.1" y1="181.9" x2="619.9" y2="181.9" class="c1"/>
<text x="623.4" y="186.8" style="font-size:16px">Case 1</text>
<line x1="600.1" y1="202.1" x2="619.9" y2="202.1" class="c2"/>
<text x="623.4" y="207.1" style="font-size:16px">Case 2</text>
<line x1="600.1" y1="222.0" x2="619.9" y2="222.0" class="c3"/>
<text x="623.4" y="227.4" style="font-size:16px">Case 3</text>
<line x1="600.1" y1="242.5" x2="619.9" y2="242.5" class="c4"/>
<text x="623.4" y="247.7" style="font-size:16px">Case 4</text>
<line x1="600.1" y1="262.7" x2="619.9" y2="262.7" class="c5"/>
<text x="623.4" y="268.0" style="font-size:16px">Case 5</text>
</svg></body></html>
